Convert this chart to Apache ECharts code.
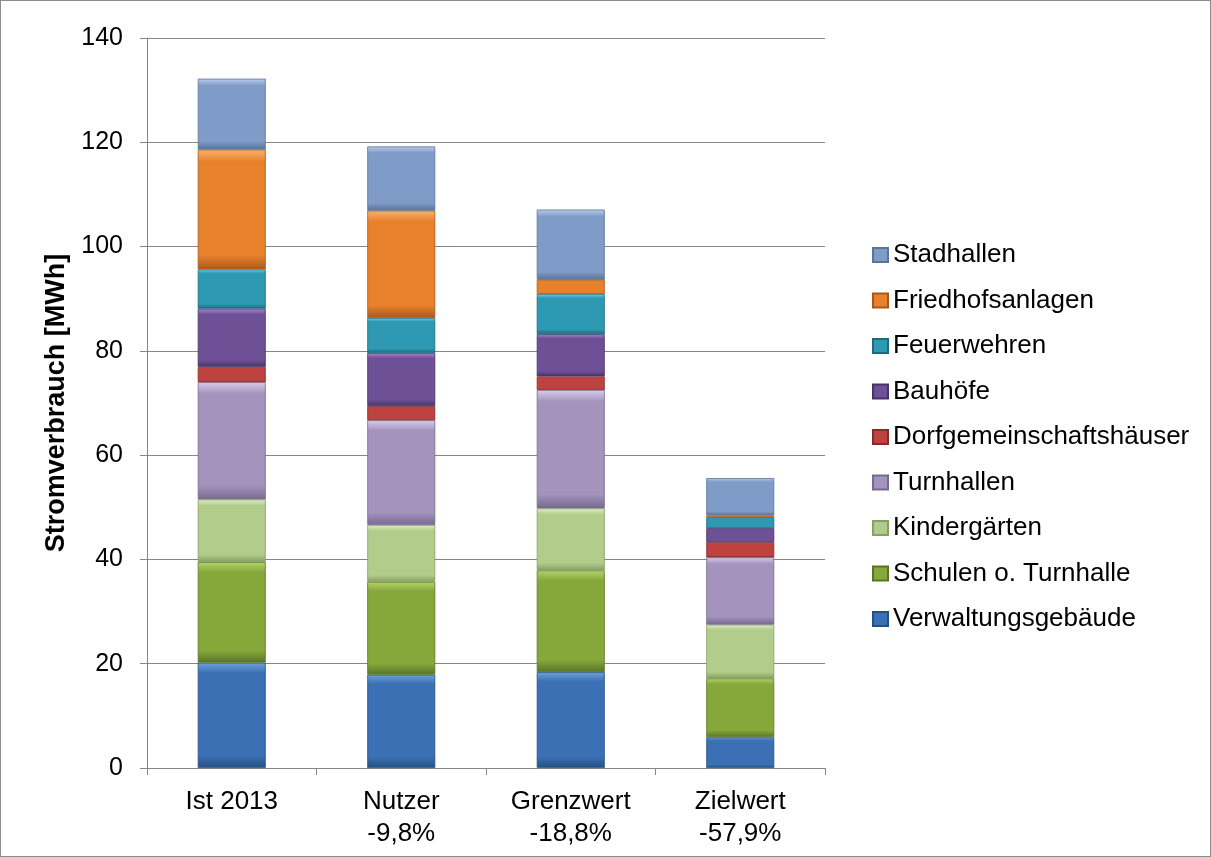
<!DOCTYPE html>
<html>
<head>
<meta charset="utf-8">
<script src="https://cdn.jsdelivr.net/npm/echarts@6/dist/echarts.min.js"></script>
<style>
html,body{margin:0;padding:0;background:#fff;}
#c{width:1209px;height:855px;border:1px solid #8c8c8c;}
</style>
</head>
<body>
<div id="c"></div>
<script>
const categories = ['Ist 2013', 'Nutzer\n-9,8%', 'Grenzwert\n-18,8%', 'Zielwert\n-57,9%'];
const yTicks = [0, 20, 40, 60, 80, 100, 120, 140];
const seriesNames = ['Verwaltungsgebäude', 'Schulen o. Turnhalle', 'Kindergärten', 'Turnhallen', 'Dorfgemeinschaftshäuser', 'Bauhöfe', 'Feuerwehren', 'Friedhofsanlagen', 'Stadhallen'];
const verwaltung = [20.2, 17.9, 18.4, 5.9];
const schulen = [19.3, 17.8, 19.5, 11.3];
const kindergaerten = [12.0, 10.9, 11.9, 10.3];
const turnhallen = [22.5, 20.1, 22.7, 12.9];
const dorfgemeinschaft = [2.9, 2.7, 2.6, 2.9];
const bauhoefe = [11.2, 10.2, 8.1, 2.7];
const feuerwehren = [7.5, 6.7, 7.7, 2.1];
const friedhof = [23.0, 20.6, 2.7, 0.3];
const stadhallen = [13.6, 12.3, 13.5, 7.2];
const values = [verwaltung, schulen, kindergaerten, turnhallen, dorfgemeinschaft, bauhoefe, feuerwehren, friedhof, stadhallen];

const palette = [
  ['#6fa0dc', '#3b71b4', '#244f82'],
  ['#b5d46a', '#86a83b', '#5a7426'],
  ['#e0efc6', '#b2cc8b', '#85a064'],
  ['#d9ccec', '#a393bd', '#766a8c'],
  ['#f07a76', '#be4340', '#842c2a'],
  ['#a78ad2', '#6d5096', '#473466'],
  ['#6fd6ee', '#2e99b2', '#1d6a7c'],
  ['#f9b36f', '#e8812b', '#a9581a'],
  ['#b8cdea', '#7f9cc8', '#5a7396']
];

function grad(p) {
  return new echarts.graphic.LinearGradient(0, 0, 0, 1, [
    {offset: 0, color: p[0]},
    {offset: 0.1, color: p[1]},
    {offset: 0.88, color: p[1]},
    {offset: 1, color: p[2]}
  ]);
}

const FONT = 'Liberation Sans, Arial, sans-serif';
const chart = echarts.init(document.getElementById('c'));
const series = seriesNames.map((n, i) => ({
  name: n,
  type: 'bar',
  stack: 'total',
  barWidth: 68,
  data: values[i],
  itemStyle: {color: grad(palette[i]), borderColor: palette[i][2], borderWidth: 0.8}
}));

chart.setOption({
  animation: false,
  textStyle: {fontFamily: FONT},
  grid: {left: 146, right: 385, top: 37, bottom: 88},
  legend: {
    orient: 'vertical',
    left: 866,
    top: 236,
    itemWidth: 15,
    itemHeight: 14,
    itemGap: 19.5,
    icon: 'rect',
    data: seriesNames.slice().reverse(),
    textStyle: {fontSize: 26, color: '#000', fontFamily: FONT}
  },
  xAxis: {
    type: 'category',
    data: categories,
    axisLine: {lineStyle: {color: '#868686', width: 1}},
    axisTick: {show: true, alignWithLabel: false, length: 7, lineStyle: {color: '#868686'}},
    axisLabel: {fontSize: 26, color: '#000', margin: 18, lineHeight: 32, fontFamily: FONT}
  },
  yAxis: {
    type: 'value',
    min: yTicks[0],
    max: yTicks[yTicks.length - 1],
    interval: 20,
    name: 'Stromverbrauch [MWh]',
    nameLocation: 'middle',
    nameGap: 77,
    nameTextStyle: {fontSize: 27, fontWeight: 'bold', color: '#000', fontFamily: FONT},
    axisLine: {show: true, lineStyle: {color: '#868686', width: 1}},
    axisTick: {show: true, length: 7, lineStyle: {color: '#868686'}},
    splitLine: {lineStyle: {color: '#868686', width: 1}},
    axisLabel: {fontSize: 25, color: '#000', margin: 24, fontFamily: FONT}
  },
  series: series
});
</script>
</body>
</html>
